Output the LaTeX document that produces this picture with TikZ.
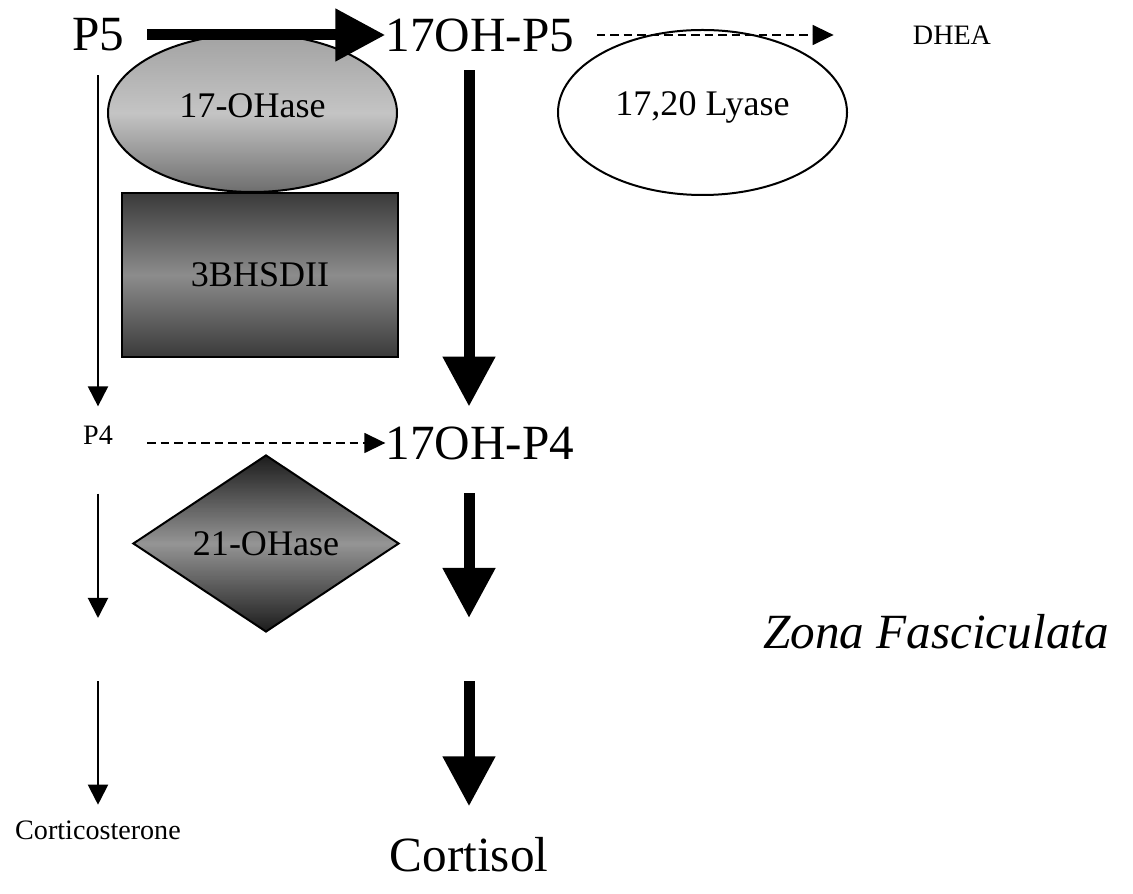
\documentclass[tikz,border=0pt]{standalone}
\usepackage{fontspec}
\setmainfont{Liberation Serif}
\usetikzlibrary{arrows.meta,shapes.geometric}

\definecolor{ohtop}{HTML}{A2A2A2}
\definecolor{ohmid}{HTML}{C4C4C4}
\definecolor{ohbot}{HTML}{6E6E6E}
\definecolor{hsdedge}{HTML}{3A3A3A}
\definecolor{hsdmid}{HTML}{8C8C8C}
\definecolor{diadark}{HTML}{262626}
\definecolor{dialight}{HTML}{767676}

\tikzset{
  bigfont/.style={font=\fontsize{28}{32}\selectfont},
  midfont/.style={font=\fontsize{20.5}{24}\selectfont},
  smallfont/.style={font=\fontsize{16}{19}\selectfont},
  fatarrow/.style={line width=0.22cm, -{Triangle[length=1cm,width=1cm]}},
  thinarrow/.style={line width=0.04cm, -{Triangle[length=0.4cm,width=0.4cm]}},
  dasharrow/.style={line width=0.03cm, dash pattern=on 0.17cm off 0.1cm,
    -{Triangle[length=0.42cm,width=0.4cm]}},
  enzyme/.style={draw, line width=0.04cm, inner sep=0pt, midfont},
}

\begin{document}
\begin{tikzpicture}
    \useasboundingbox (0,0) rectangle (22.66,-17.88);

    % enzymes
    \node[enzyme, ellipse, minimum width=5.78cm, minimum height=3.16cm, text depth=0.28cm,
        top color=ohtop, bottom color=ohbot, middle color=ohmid]
        (oh17) at (5.05,-2.26) {17-OHase};

    \node[enzyme, ellipse, minimum width=5.78cm, minimum height=3.30cm, text depth=0.36cm]
        (lyase) at (14.05,-2.25) {17,20 Lyase};

    \node[enzyme, rectangle, minimum width=5.52cm, minimum height=3.28cm,
        top color=hsdedge, bottom color=hsdedge, middle color=hsdmid]
        (hsd) at (5.20,-5.50) {3BHSDII};

    \node[enzyme, diamond, minimum width=5.32cm, minimum height=3.54cm,
        path picture={
            \shade[top color=diadark, bottom color=diadark, middle color=dialight]
                (path picture bounding box.south west) rectangle (path picture bounding box.north east);
            \shade[shading angle=56, top color=black, bottom color=black, middle color=white, opacity=0.12]
                (path picture bounding box.south west) rectangle (path picture bounding box.north east);
            \shade[shading angle=-56, top color=black, bottom color=black, middle color=white, opacity=0.12]
                (path picture bounding box.south west) rectangle (path picture bounding box.north east);
        }]
        (oh21) at (5.32,-10.87) {21-OHase};

    % steroids
    \node[bigfont, inner sep=0pt] (p5) at (1.96,-0.70) {P5};
    \node[bigfont, inner sep=0pt] (ohp5) at (9.60,-0.70) {17OH-P5};
    \node[smallfont, inner sep=0pt] (dhea) at (19.04,-0.70) {DHEA};
    \node[smallfont, inner sep=0pt] (p4) at (1.96,-8.70) {P4};
    \node[bigfont, inner sep=0pt] (ohp4) at (9.60,-8.86) {17OH-P4};
    \node[smallfont, inner sep=0pt] (cortico) at (1.96,-16.60) {Corticosterone};
    \node[bigfont, inner sep=0pt] (cortisol) at (9.38,-17.10) {Cortisol};

    \node[bigfont, inner sep=0pt] (zona) at (18.72,-12.64) {\itshape Zona Fasciculata};

    % breaks in the two lower columns
    \coordinate (thinend) at (1.96,-12.36);
    \coordinate (thinstart) at (1.96,-13.62);
    \coordinate (fatend) at (9.38,-12.36);
    \coordinate (fatstart) at (9.38,-13.62);

    % reactions
    \draw[fatarrow, shorten <=0.46cm] (p5) -- (ohp5);
    \draw[dasharrow, shorten <=0.44cm, shorten >=1.58cm] (ohp5) -- (dhea);
    \draw[dasharrow, shorten <=0.68cm] (p4.east |- ohp4) -- (ohp4.west);

    \draw[thinarrow, shorten <=0.47cm, shorten >=0.38cm] (p5) -- (p4);
    \draw[thinarrow, shorten <=0.98cm] (p4) -- (thinend);
    \draw[thinarrow, shorten >=0.31cm] (thinstart) -- (cortico);

    \draw[fatarrow, shorten <=0.37cm, shorten >=0.39cm] (ohp5.south -| cortisol) -- (ohp4.north -| cortisol);
    \draw[fatarrow, shorten <=0.67cm] (ohp4.south -| cortisol) -- (fatend);
    \draw[fatarrow, shorten >=0.62cm] (fatstart) -- (cortisol);
\end{tikzpicture}
\end{document}
